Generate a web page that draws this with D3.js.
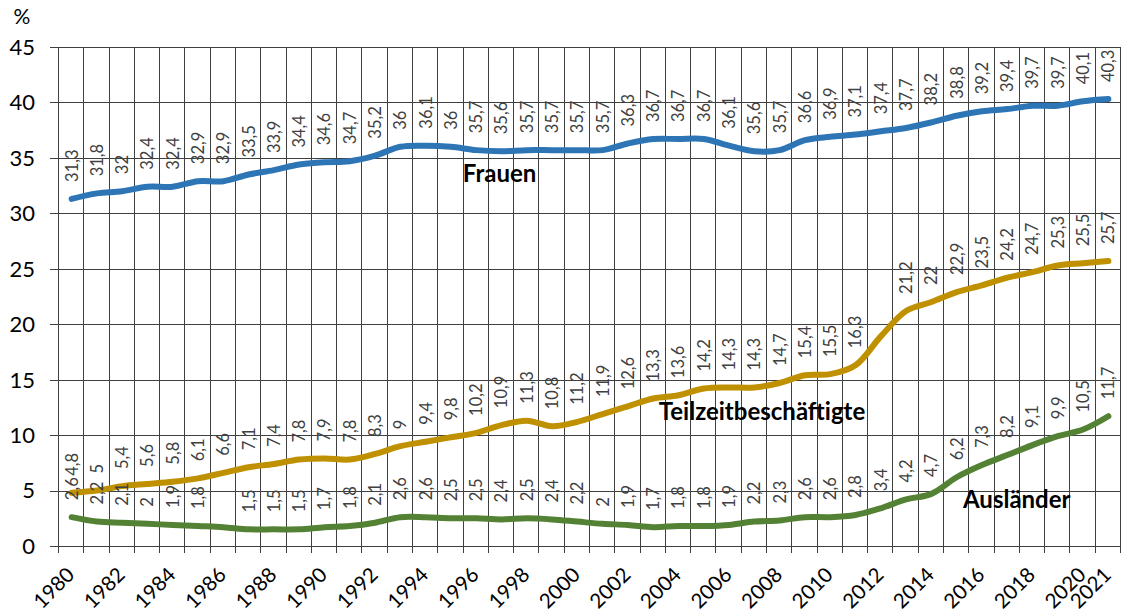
<!DOCTYPE html>
<html>
<head>
<meta charset="utf-8">
<style>
  body { margin: 0; background: #fff; }
  svg { display: block; font-family: Lato, "Open Sans", sans-serif; }
</style>
</head>
<body>
<div id="chart"></div>
<script src="https://d3js.org/d3.v7.min.js"></script>
<script>
// years 1980..2021
var years = d3.range(1980, 2022);

var frauen = [31.3, 31.8, 32, 32.4, 32.4, 32.9, 32.9, 33.5, 33.9, 34.4, 34.6, 34.7, 35.2, 36, 36.1, 36,
  35.7, 35.6, 35.7, 35.7, 35.7, 35.7, 36.3, 36.7, 36.7, 36.7, 36.1, 35.6, 35.7, 36.6, 36.9, 37.1,
  37.4, 37.7, 38.2, 38.8, 39.2, 39.4, 39.7, 39.7, 40.1, 40.3];

var teilzeit = [4.8, 5, 5.4, 5.6, 5.8, 6.1, 6.6, 7.1, 7.4, 7.8, 7.9, 7.8, 8.3, 9, 9.4, 9.8,
  10.2, 10.9, 11.3, 10.8, 11.2, 11.9, 12.6, 13.3, 13.6, 14.2, 14.3, 14.3, 14.7, 15.4, 15.5, 16.3,
  18.9, 21.2, 22, 22.9, 23.5, 24.2, 24.7, 25.3, 25.5, 25.7];

var auslaender = [2.6, 2.2, 2.1, 2, 1.9, 1.8, 1.7, 1.5, 1.5, 1.5, 1.7, 1.8, 2.1, 2.6, 2.6, 2.5,
  2.5, 2.4, 2.5, 2.4, 2.2, 2, 1.9, 1.7, 1.8, 1.8, 1.9, 2.2, 2.3, 2.6, 2.6, 2.8,
  3.4, 4.2, 4.7, 6.2, 7.3, 8.2, 9.1, 9.9, 10.5, 11.7];

// labels not shown in the original
var teilzeitNoLabel = [2012];
var auslaenderNoLabel = [1986];

var yTicks = [0, 5, 10, 15, 20, 25, 30, 35, 40, 45];
var xTickYears = [1980, 1982, 1984, 1986, 1988, 1990, 1992, 1994, 1996, 1998, 2000,
  2002, 2004, 2006, 2008, 2010, 2012, 2014, 2016, 2018, 2020, 2021];

var W = 1122, H = 613;
var plotL = 59, plotR = 1121, plotT = 47, plotB = 546;

var svg = d3.select("#chart").append("svg")
  .attr("width", W).attr("height", H);

svg.append("rect").attr("width", W).attr("height", H).attr("fill", "#fff");

var x = d3.scaleBand().domain(years).range([plotL, plotR]).padding(0);
var bw = x.bandwidth();
var y = d3.scaleLinear().domain([0, 45]).range([plotB, plotT]);

function cx(yr) { return x(yr) + bw / 2; }
// fractional position along the category axis
function xi(i) { return plotL + i * bw; }

var gridColor = "#404040";

// horizontal gridlines (with tick stubs to the left)
svg.append("g").selectAll("line").data(yTicks).enter().append("line")
  .attr("x1", 50).attr("x2", plotR)
  .attr("y1", function(d) { return Math.round(y(d)) + 0.5; })
  .attr("y2", function(d) { return Math.round(y(d)) + 0.5; })
  .attr("stroke", gridColor).attr("stroke-width", 1);

// vertical gridlines at category boundaries (with tick stubs below)
var bounds = d3.range(0, years.length + 1);
svg.append("g").selectAll("line").data(bounds).enter().append("line")
  .attr("x1", function(i) { return Math.round(xi(i)) - 0.5; })
  .attr("x2", function(i) { return Math.round(xi(i)) - 0.5; })
  .attr("y1", plotT).attr("y2", plotB + 7)
  .attr("stroke", gridColor).attr("stroke-width", 1);

// y tick labels
svg.append("g").selectAll("text").data(yTicks).enter().append("text")
  .attr("x", 35).attr("y", function(d) { return y(d); })
  .attr("dy", "0.36em")
  .attr("text-anchor", "end")
  .attr("font-size", 22)
  .attr("fill", "#000")
  .text(function(d) { return d; });

svg.append("text")
  .attr("x", 22).attr("y", 24)
  .attr("text-anchor", "middle")
  .attr("font-size", 21)
  .text("%");

// x tick labels, rotated
svg.append("g").selectAll("text").data(xTickYears).enter().append("text")
  .attr("transform", function(d) { return "translate(" + (cx(d) + 4) + "," + 576 + ") rotate(-45)"; })
  .attr("text-anchor", "end")
  .attr("font-size", 20.5)
  .attr("fill", "#000")
  .text(function(d) { return d; });

var series = [
  { name: "Frauen", values: frauen, color: "#2E75B6", hide: [] },
  { name: "Teilzeitbeschäftigte", values: teilzeit, color: "#BF9000", hide: teilzeitNoLabel },
  { name: "Ausländer", values: auslaender, color: "#548235", hide: auslaenderNoLabel }
];

var line = d3.line()
  .x(function(d) { return cx(d.year); })
  .y(function(d) { return y(d.value); })
  .curve(d3.curveCatmullRom.alpha(0.5));

series.forEach(function(s) {
  var pts = years.map(function(yr, i) { return { year: yr, value: s.values[i] }; });
  svg.append("path")
    .datum(pts)
    .attr("fill", "none")
    .attr("stroke", s.color)
    .attr("stroke-width", 6)
    .attr("stroke-linecap", "round")
    .attr("stroke-linejoin", "round")
    .attr("d", line);
  s.pts = pts;
});

// data labels, rotated, above each point
series.forEach(function(s) {
  svg.append("g").selectAll("text")
    .data(s.pts.filter(function(d) { return s.hide.indexOf(d.year) < 0; }))
    .enter().append("text")
    .attr("transform", function(d) { return "translate(" + cx(d.year) + "," + (y(d.value) - 17) + ") rotate(-90)"; })
    .attr("text-anchor", "start")
    .attr("dy", "0.36em")
    .attr("font-size", 16.5)
    .attr("fill", "#404040")
    .text(function(d) { return String(d.value).replace(".", ","); });
});

// series names
var names = [
  { text: "Frauen", i: 15.97, v: 32.8 },
  { text: "Teilzeitbeschäftigte", i: 23.72, v: 11.36 },
  { text: "Ausländer", i: 35.75, v: 3.43 }
];
svg.append("g").selectAll("text").data(names).enter().append("text")
  .attr("x", function(d) { return xi(d.i); })
  .attr("y", function(d) { return y(d.v); })
  .attr("font-size", 24)
  .attr("font-weight", "bold")
  .attr("fill", "#000")
  .text(function(d) { return d.text; });
</script>
</body>
</html>
